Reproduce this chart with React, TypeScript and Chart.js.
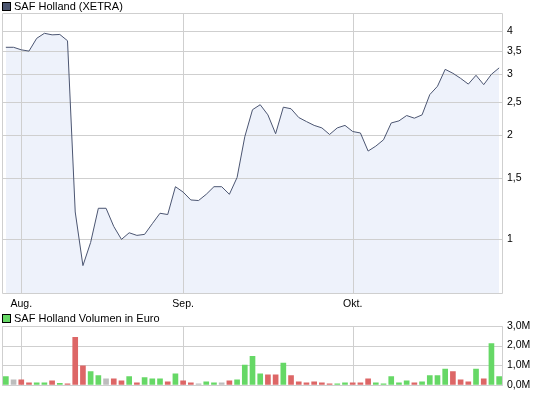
import React, { useEffect, useRef } from "react";
import { Chart, registerables } from "chart.js";

Chart.register(...registerables);

// ---- data ----
const dates = [
  "2009-07-30", "2009-07-31",
  "2009-08-03", "2009-08-04", "2009-08-05", "2009-08-06", "2009-08-07",
  "2009-08-10", "2009-08-11", "2009-08-12", "2009-08-13", "2009-08-14",
  "2009-08-17", "2009-08-18", "2009-08-19", "2009-08-20", "2009-08-21",
  "2009-08-24", "2009-08-25", "2009-08-26", "2009-08-27", "2009-08-28",
  "2009-08-31",
  "2009-09-01", "2009-09-02", "2009-09-03", "2009-09-04",
  "2009-09-07", "2009-09-08", "2009-09-09", "2009-09-10", "2009-09-11",
  "2009-09-14", "2009-09-15", "2009-09-16", "2009-09-17", "2009-09-18",
  "2009-09-21", "2009-09-22", "2009-09-23", "2009-09-24", "2009-09-25",
  "2009-09-28", "2009-09-29", "2009-09-30",
  "2009-10-01", "2009-10-02",
  "2009-10-05", "2009-10-06", "2009-10-07", "2009-10-08", "2009-10-09",
  "2009-10-12", "2009-10-13", "2009-10-14", "2009-10-15", "2009-10-16",
  "2009-10-19", "2009-10-20", "2009-10-21", "2009-10-22", "2009-10-23",
  "2009-10-26", "2009-10-27", "2009-10-28",
];

const priceValues = [
  3.59, 3.59, 3.53, 3.5, 3.81, 3.94, 3.9, 3.91, 3.75, 1.2,
  0.84, 0.98, 1.23, 1.23, 1.09, 1.0, 1.045, 1.027, 1.034, 1.11,
  1.19, 1.18, 1.42, 1.37, 1.3, 1.295, 1.35, 1.42, 1.42, 1.35,
  1.51, 1.98, 2.37, 2.45, 2.29, 2.02, 2.41, 2.385, 2.25, 2.19,
  2.135, 2.1, 2.01, 2.1, 2.135, 2.05, 2.03, 1.8, 1.86, 1.94,
  2.17, 2.2, 2.28, 2.24, 2.29, 2.62, 2.77, 3.1, 3.02, 2.92,
  2.81, 2.98, 2.8, 3.0, 3.13,
];

// volume in million euro
const volumeValues = [
  0.42, 0.25, 0.25, 0.1, 0.1, 0.1, 0.2, 0.07, 0.05, 2.42,
  0.97, 0.67, 0.47, 0.3, 0.3, 0.2, 0.42, 0.1, 0.37, 0.3,
  0.3, 0.15, 0.55, 0.2, 0.1, 0.05, 0.15, 0.1, 0.1, 0.2,
  0.25, 1.0, 1.45, 0.55, 0.5, 0.5, 1.1, 0.47, 0.15, 0.1,
  0.15, 0.1, 0.05, 0.05, 0.1, 0.1, 0.1, 0.3, 0.1, 0.05,
  0.42, 0.1, 0.2, 0.1, 0.15, 0.47, 0.47, 0.8, 0.67, 0.25,
  0.15, 0.8, 0.3, 2.1, 0.42,
];

const volumeDirection = [
  "up", "flat", "down", "down", "up", "up", "down", "up", "down", "down",
  "down", "up", "up", "flat", "down", "down", "up", "down", "up", "up",
  "up", "down", "up", "down", "down", "flat", "up", "up", "flat", "down",
  "up", "up", "up", "up", "down", "down", "up", "down", "down", "down",
  "down", "down", "down", "up", "up", "down", "down", "down", "up", "up",
  "up", "up", "up", "down", "up", "up", "up", "up", "down", "down",
  "down", "up", "down", "up", "up",
];

const monthNames = ["Aug.", "Sep.", "Okt."];
const priceTicks = [1, 1.5, 2, 2.5, 3, 3.5, 4];
const volumeTicks = [0, 1, 2, 3];

const priceTitle = "SAF Holland (XETRA)";
const volumeTitle = "SAF Holland Volumen in Euro";

// ---- styles ----
const FONT = "'Liberation Sans', Arial, sans-serif";
const FONT_SIZE = 10.5;
const GRID = "#cfcfcf";
const LINE = "#4b5571";
const FILL = "#eef2fb";
const LEGEND_PRICE = "#4c5670";
const COLORS: Record<string, string> = {
  up: "#66d866",
  down: "#dd6666",
  flat: "#bdbdbd",
};

// first trading day index of each month
const monthTickIdx: number[] = [];
dates.forEach((d, i) => {
  if (i > 0 && d.slice(5, 7) !== dates[i - 1].slice(5, 7)) monthTickIdx.push(i);
});

// grid + frame drawn above the area fill but below the line / bars
function makeGridPlugin(yValues: number[]) {
  return {
    id: "gridOverFill",
    beforeDatasetDraw(chart: any) {
      const { ctx, chartArea: a, scales } = chart;
      const left = Math.round(a.left) + 0.5;
      const right = Math.round(a.right) - 0.5;
      const top = Math.round(a.top) + 0.5;
      const bottom = Math.round(a.bottom) + 0.5;
      ctx.save();
      ctx.strokeStyle = GRID;
      ctx.lineWidth = 1;
      ctx.beginPath();
      yValues.forEach((v) => {
        const y = Math.round(scales.y.getPixelForValue(v)) + 0.5;
        ctx.moveTo(left, y);
        ctx.lineTo(right, y);
      });
      monthTickIdx.forEach((i) => {
        const x = Math.round(scales.x.getPixelForValue(i)) + 0.5;
        ctx.moveTo(x, top);
        ctx.lineTo(x, bottom);
      });
      ctx.rect(left, top, right - left, bottom - top);
      ctx.stroke();
      ctx.restore();
    },
  };
}

const headerPlugin = {
  id: "header",
  afterDraw(chart: any, _args: any, opts: any) {
    const { ctx } = chart;
    ctx.save();
    ctx.fillStyle = opts.fill;
    ctx.fillRect(2, opts.y, 9, 9);
    ctx.strokeStyle = "#000";
    ctx.lineWidth = 1;
    ctx.strokeRect(2.5, opts.y + 0.5, 8, 8);
    ctx.fillStyle = "#000";
    ctx.font = `11px ${FONT}`;
    ctx.textBaseline = "middle";
    ctx.textAlign = "left";
    ctx.fillText(opts.text, 14, opts.y + 5);
    ctx.restore();
  },
};

function xScale(showLabels: boolean, height: number) {
  return {
    type: "category",
    offset: true,
    afterBuildTicks(scale: any) {
      scale.ticks = monthTickIdx.map((v) => ({ value: v }));
    },
    afterFit(scale: any) {
      scale.height = height;
    },
    grid: { display: false, drawTicks: false, offset: false },
    border: { display: false },
    ticks: {
      display: showLabels,
      autoSkip: false,
      maxRotation: 0,
      padding: 5,
      color: "#000",
      font: { family: FONT, size: FONT_SIZE },
      callback: (_v: number, i: number) => monthNames[i] ?? "",
    },
  };
}

function yTicks(fmt: (v: number) => string) {
  return {
    padding: 4,
    color: "#000",
    font: { family: FONT, size: FONT_SIZE },
    callback: fmt,
  };
}

export default function App() {
  const priceRef = useRef<HTMLCanvasElement>(null);
  const volRef = useRef<HTMLCanvasElement>(null);

  useEffect(() => {
    const priceChart = new Chart(priceRef.current!, {
      type: "line",
      data: {
        labels: dates,
        datasets: [
          {
            data: priceValues,
            borderColor: LINE,
            borderWidth: 1,
            backgroundColor: FILL,
            fill: "start",
            pointRadius: 0,
            tension: 0,
          },
        ],
      },
      options: {
        responsive: false,
        animation: false,
        events: [],
        layout: { padding: { top: 13, left: 2, right: 0, bottom: 0 } },
        plugins: {
          legend: { display: false },
          tooltip: { enabled: false },
          header: { text: priceTitle, fill: LEGEND_PRICE, y: 2 },
        } as any,
        scales: {
          x: xScale(true, 19) as any,
          y: {
            type: "logarithmic",
            position: "right",
            min: 0.7036,
            max: 4.51,
            afterBuildTicks(scale: any) {
              scale.ticks = priceTicks.map((v) => ({ value: v }));
            },
            afterFit(scale: any) {
              scale.width = 42;
            },
            grid: { display: false, drawTicks: false },
            border: { display: false },
            ticks: yTicks((v: number) => String(v).replace(".", ",")),
          },
        },
      },
      plugins: [makeGridPlugin(priceTicks), headerPlugin],
    });

    const volChart = new Chart(volRef.current!, {
      type: "bar",
      data: {
        labels: dates,
        datasets: [
          {
            data: volumeValues,
            backgroundColor: volumeDirection.map((d) => COLORS[d]),
            borderWidth: 0,
            barThickness: 5,
          },
        ],
      },
      options: {
        responsive: false,
        animation: false,
        events: [],
        layout: { padding: { top: 16, left: 2, right: 0, bottom: 0 } },
        plugins: {
          legend: { display: false },
          tooltip: { enabled: false },
          header: { text: volumeTitle, fill: COLORS.up, y: 4 },
        } as any,
        scales: {
          x: xScale(false, 9) as any,
          y: {
            type: "linear",
            position: "right",
            min: 0,
            max: 3,
            afterBuildTicks(scale: any) {
              scale.ticks = volumeTicks.map((v) => ({ value: v }));
            },
            afterFit(scale: any) {
              scale.width = 42;
            },
            grid: { display: false, drawTicks: false },
            border: { display: false },
            ticks: yTicks((v: number) => v.toFixed(1).replace(".", ",") + "M"),
          },
        },
      },
      plugins: [makeGridPlugin(volumeTicks), headerPlugin],
    });

    return () => {
      priceChart.destroy();
      volChart.destroy();
    };
  }, []);

  return (
    <div
      style={{
        position: "absolute",
        left: 0,
        top: 0,
        width: 545,
        height: 395,
        background: "#fff",
      }}
    >
      <canvas
        ref={priceRef}
        width={545}
        height={312}
        style={{ position: "absolute", left: 0, top: 0, width: 545, height: 312 }}
      />
      <canvas
        ref={volRef}
        width={545}
        height={85}
        style={{ position: "absolute", left: 0, top: 310, width: 545, height: 85 }}
      />
    </div>
  );
}
